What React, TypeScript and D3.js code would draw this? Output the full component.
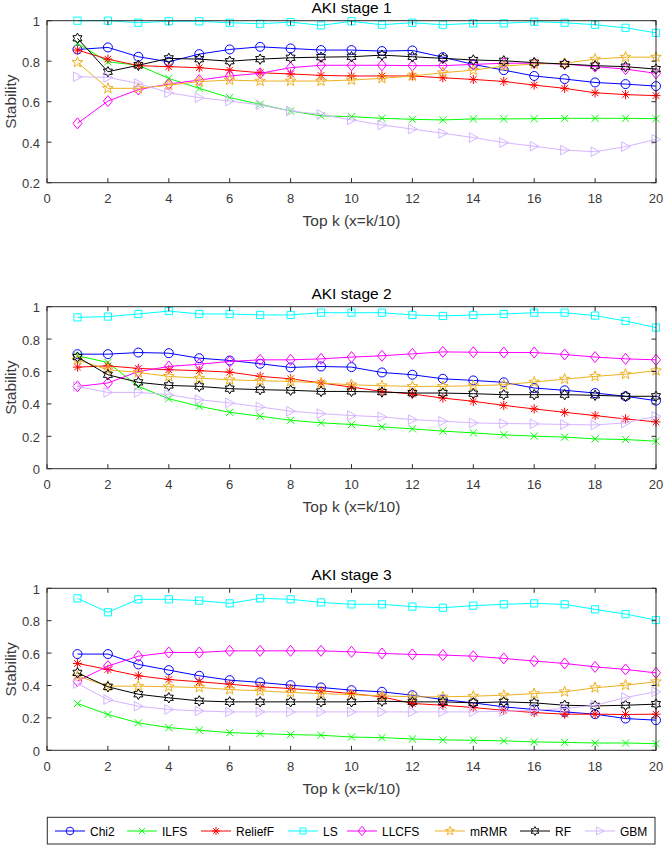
import React from 'react';
import * as d3 from 'd3';

const topK = [1, 2, 3, 4, 5, 6, 7, 8, 9, 10, 11, 12, 13, 14, 15, 16, 17, 18, 19, 20];
const xTicks = [0, 2, 4, 6, 8, 10, 12, 14, 16, 18, 20];
const yTicksStage1 = [0.2, 0.4, 0.6, 0.8, 1];
const yTicksStage23 = [0, 0.2, 0.4, 0.6, 0.8, 1];

const methods = ['Chi2', 'ILFS', 'ReliefF', 'LS', 'LLCFS', 'mRMR', 'RF', 'GBM'];
const methodColors = ['#0000ff', '#00ff00', '#ff0000', '#00ffff', '#ff00ff', '#edb120', '#000000', '#d6b4ff'];
const methodMarkers = ['circle', 'x', 'asterisk', 'square', 'diamond', 'pentagram', 'hexagram', 'triangle'];

const stageTitles = ['AKI stage 1', 'AKI stage 2', 'AKI stage 3'];

// Stage 1
const s1Chi2 = [0.858, 0.868, 0.822, 0.797, 0.835, 0.858, 0.871, 0.863, 0.855, 0.855, 0.85, 0.853, 0.82, 0.784, 0.756, 0.727, 0.712, 0.695, 0.687, 0.677];
const s1ILFS = [0.888, 0.797, 0.78, 0.715, 0.666, 0.62, 0.587, 0.554, 0.53, 0.526, 0.518, 0.513, 0.51, 0.515, 0.515, 0.516, 0.518, 0.518, 0.518, 0.516];
const s1ReliefF = [0.855, 0.81, 0.778, 0.773, 0.768, 0.756, 0.743, 0.737, 0.73, 0.727, 0.727, 0.727, 0.718, 0.71, 0.7, 0.682, 0.666, 0.644, 0.635, 0.63];
const s1LS = [1.0, 1.0, 0.99, 0.997, 0.997, 0.99, 0.985, 0.993, 0.977, 0.997, 0.98, 0.99, 0.98, 0.987, 0.987, 0.995, 0.99, 0.98, 0.965, 0.94];
const s1LLCFS = [0.493, 0.603, 0.66, 0.687, 0.707, 0.727, 0.74, 0.768, 0.78, 0.78, 0.78, 0.778, 0.778, 0.784, 0.79, 0.79, 0.786, 0.773, 0.761, 0.74];
const s1mRMR = [0.794, 0.666, 0.666, 0.682, 0.699, 0.707, 0.702, 0.702, 0.702, 0.707, 0.715, 0.727, 0.743, 0.756, 0.776, 0.786, 0.79, 0.81, 0.82, 0.82];
const s1RF = [0.913, 0.748, 0.78, 0.814, 0.81, 0.8, 0.81, 0.817, 0.82, 0.822, 0.83, 0.822, 0.814, 0.806, 0.802, 0.793, 0.786, 0.778, 0.773, 0.761];
const s1GBM = [0.723, 0.72, 0.69, 0.644, 0.62, 0.603, 0.584, 0.554, 0.537, 0.51, 0.485, 0.465, 0.444, 0.423, 0.398, 0.38, 0.361, 0.353, 0.378, 0.414];

// Stage 2
const s2Chi2 = [0.707, 0.707, 0.717, 0.713, 0.682, 0.668, 0.648, 0.625, 0.631, 0.627, 0.594, 0.58, 0.555, 0.545, 0.533, 0.498, 0.484, 0.467, 0.447, 0.42];
const s2ILFS = [0.697, 0.656, 0.508, 0.432, 0.385, 0.348, 0.324, 0.299, 0.283, 0.273, 0.258, 0.246, 0.232, 0.221, 0.209, 0.201, 0.195, 0.184, 0.18, 0.17];
const s2ReliefF = [0.627, 0.635, 0.619, 0.611, 0.605, 0.596, 0.57, 0.555, 0.529, 0.504, 0.477, 0.461, 0.436, 0.416, 0.391, 0.369, 0.348, 0.328, 0.307, 0.289];
const s2LS = [0.934, 0.939, 0.955, 0.973, 0.955, 0.955, 0.949, 0.949, 0.963, 0.963, 0.963, 0.949, 0.943, 0.949, 0.955, 0.963, 0.963, 0.945, 0.912, 0.871];
const s2LLCFS = [0.508, 0.529, 0.6, 0.631, 0.645, 0.662, 0.672, 0.672, 0.678, 0.689, 0.697, 0.709, 0.721, 0.719, 0.717, 0.717, 0.705, 0.689, 0.678, 0.672];
const s2mRMR = [0.672, 0.611, 0.594, 0.57, 0.559, 0.549, 0.543, 0.539, 0.529, 0.518, 0.512, 0.508, 0.508, 0.512, 0.518, 0.535, 0.553, 0.57, 0.584, 0.605];
const s2RF = [0.689, 0.58, 0.533, 0.514, 0.508, 0.494, 0.488, 0.484, 0.477, 0.477, 0.473, 0.467, 0.467, 0.463, 0.457, 0.457, 0.457, 0.453, 0.447, 0.447];
const s2GBM = [0.508, 0.471, 0.471, 0.457, 0.426, 0.406, 0.381, 0.355, 0.34, 0.328, 0.32, 0.303, 0.293, 0.283, 0.279, 0.277, 0.273, 0.27, 0.283, 0.324];

// Stage 3
const s3Chi2 = [0.594, 0.594, 0.53, 0.495, 0.46, 0.433, 0.419, 0.402, 0.388, 0.371, 0.361, 0.34, 0.313, 0.293, 0.268, 0.252, 0.237, 0.223, 0.196, 0.186];
const s3ILFS = [0.289, 0.221, 0.169, 0.14, 0.124, 0.109, 0.103, 0.097, 0.093, 0.082, 0.078, 0.07, 0.064, 0.062, 0.058, 0.052, 0.049, 0.045, 0.045, 0.041];
const s3ReliefF = [0.536, 0.499, 0.46, 0.437, 0.423, 0.408, 0.392, 0.381, 0.367, 0.35, 0.33, 0.289, 0.278, 0.264, 0.247, 0.233, 0.223, 0.223, 0.221, 0.223];
const s3LS = [0.938, 0.852, 0.932, 0.932, 0.924, 0.907, 0.938, 0.932, 0.913, 0.901, 0.901, 0.887, 0.88, 0.893, 0.901, 0.907, 0.901, 0.87, 0.841, 0.804];
const s3LLCFS = [0.427, 0.52, 0.581, 0.604, 0.604, 0.614, 0.614, 0.614, 0.614, 0.608, 0.598, 0.592, 0.588, 0.581, 0.567, 0.551, 0.536, 0.515, 0.499, 0.478];
const s3mRMR = [0.458, 0.396, 0.396, 0.392, 0.388, 0.375, 0.367, 0.357, 0.35, 0.344, 0.336, 0.33, 0.33, 0.334, 0.34, 0.35, 0.361, 0.386, 0.402, 0.423];
const s3RF = [0.478, 0.392, 0.346, 0.324, 0.305, 0.299, 0.299, 0.299, 0.299, 0.299, 0.303, 0.299, 0.299, 0.293, 0.299, 0.293, 0.278, 0.274, 0.278, 0.285];
const s3GBM = [0.412, 0.313, 0.272, 0.252, 0.243, 0.237, 0.237, 0.237, 0.237, 0.237, 0.237, 0.237, 0.237, 0.237, 0.241, 0.247, 0.258, 0.278, 0.326, 0.361];

const stageSeries = [
  [s1Chi2, s1ILFS, s1ReliefF, s1LS, s1LLCFS, s1mRMR, s1RF, s1GBM],
  [s2Chi2, s2ILFS, s2ReliefF, s2LS, s2LLCFS, s2mRMR, s2RF, s2GBM],
  [s3Chi2, s3ILFS, s3ReliefF, s3LS, s3LLCFS, s3mRMR, s3RF, s3GBM],
];
const stageYDomains = [[0.2, 1], [0, 1], [0, 1]];
const stageYTicks = [yTicksStage1, yTicksStage23, yTicksStage23];

const FONT = '"Liberation Sans", Arial, Helvetica, sans-serif';
const AXIS = '#2b2b2b';
const LABEL = '#3a3a3a';

function starPath(n: number, ro: number, ri: number): string {
  const pts: string[] = [];
  for (let i = 0; i < 2 * n; i++) {
    const r = i % 2 === 0 ? ro : ri;
    const a = -Math.PI / 2 + (i * Math.PI) / n;
    pts.push(`${(r * Math.cos(a)).toFixed(2)},${(r * Math.sin(a)).toFixed(2)}`);
  }
  return 'M' + pts.join('L') + 'Z';
}

function markerPath(type: string): string {
  switch (type) {
    case 'circle': {
      const r = 4.5;
      return `M${r},0A${r},${r} 0 1,1 ${-r},0A${r},${r} 0 1,1 ${r},0Z`;
    }
    case 'x':
      return 'M-3.6,-3.6L3.6,3.6M-3.6,3.6L3.6,-3.6';
    case 'asterisk':
      return 'M-4.6,0L4.6,0M0,-4.6L0,4.6M-3.3,-3.3L3.3,3.3M-3.3,3.3L3.3,-3.3';
    case 'square':
      return 'M-3.6,-3.6H3.6V3.6H-3.6Z';
    case 'diamond':
      return 'M0,-5.5L4.5,0L0,5.5L-4.5,0Z';
    case 'pentagram':
      return starPath(5, 5.6, 2.3);
    case 'hexagram':
      return starPath(6, 5.2, 3.0);
    case 'triangle':
      return 'M4.8,0L-4,-4.8L-4,4.8Z';
    default:
      return '';
  }
}

const LEFT = 47;
const RIGHT = 656;
const panelTops = [20.7, 306.7, 588.3];
const PANEL_H = 162;

function Panel({ idx }: { idx: number }) {
  const top = panelTops[idx];
  const bottom = top + PANEL_H;
  const x = d3.scaleLinear().domain([0, 20]).range([LEFT, RIGHT]);
  const y = d3.scaleLinear().domain(stageYDomains[idx]).range([bottom, top]);
  const line = d3
    .line<number>()
    .x((_, i) => x(topK[i]))
    .y((d) => y(d));
  const series = stageSeries[idx];
  const tl = 4.5;
  const midX = (LEFT + RIGHT) / 2;
  return (
    <g>
      {series.map((vals, si) => (
        <g key={si}>
          <path d={line(vals) || ''} fill="none" stroke={methodColors[si]} strokeWidth={1} />
          {vals.map((v, i) => (
            <path
              key={i}
              d={markerPath(methodMarkers[si])}
              transform={`translate(${x(topK[i])},${y(v)})`}
              fill="none"
              stroke={methodColors[si]}
              strokeWidth={1}
            />
          ))}
        </g>
      ))}
      {/* box */}
      <rect x={LEFT} y={top} width={RIGHT - LEFT} height={PANEL_H} fill="none" stroke={AXIS} strokeWidth={1} />
      {xTicks.map((t) => (
        <g key={'xt' + t}>
          <line x1={x(t)} x2={x(t)} y1={bottom} y2={bottom - tl} stroke={AXIS} />
          <line x1={x(t)} x2={x(t)} y1={top} y2={top + tl} stroke={AXIS} />
          <text x={x(t)} y={bottom + 16} textAnchor="middle" dominantBaseline="central" fontSize={13} fill={LABEL} fontFamily={FONT}>
            {String(t)}
          </text>
        </g>
      ))}
      {stageYTicks[idx].map((t) => (
        <g key={'yt' + t}>
          <line x1={LEFT} x2={LEFT + tl} y1={y(t)} y2={y(t)} stroke={AXIS} />
          <line x1={RIGHT} x2={RIGHT - tl} y1={y(t)} y2={y(t)} stroke={AXIS} />
          <text x={40} y={y(t) + 1} textAnchor="end" dominantBaseline="central" fontSize={13} fill={LABEL} fontFamily={FONT}>
            {String(t)}
          </text>
        </g>
      ))}
      <text x={midX} y={top - 13.5} textAnchor="middle" dominantBaseline="central" fontSize={15.5} fill="#000" fontFamily={FONT}>
        {stageTitles[idx]}
      </text>
      <text x={midX} y={bottom + 38} textAnchor="middle" dominantBaseline="central" fontSize={15.5} fill={LABEL} fontFamily={FONT}>
        Top k (x=k/10)
      </text>
      <text
        transform={`translate(10,${(top + bottom) / 2}) rotate(-90)`}
        textAnchor="middle"
        dominantBaseline="central"
        fontSize={15.5}
        fill={LABEL}
        fontFamily={FONT}
      >
        Stability
      </text>
    </g>
  );
}

const legendLineX = [55, 127, 201, 288, 347, 435, 520, 585];

function Legend() {
  const yc = 831;
  return (
    <g>
      <rect x={47.3} y={817.3} width={607.7} height={26.7} fill="#fff" stroke={AXIS} strokeWidth={1} />
      {methods.map((m, i) => {
        const x0 = legendLineX[i];
        return (
          <g key={m}>
            <line x1={x0} x2={x0 + 30} y1={yc} y2={yc} stroke={methodColors[i]} strokeWidth={1} />
            <path
              d={markerPath(methodMarkers[i])}
              transform={`translate(${x0 + 15},${yc}) scale(0.85)`}
              fill="none"
              stroke={methodColors[i]}
              strokeWidth={1.1}
            />
            <text x={x0 + 35} y={yc + 0.5} dominantBaseline="central" fontSize={12} fill="#000" fontFamily={FONT}>
              {m}
            </text>
          </g>
        );
      })}
    </g>
  );
}

export default function App() {
  return (
    <svg
      width={666}
      height={847}
      viewBox="0 0 666 847"
      style={{ position: 'absolute', left: 0, top: 0, background: '#fff' }}
    >
      <rect x={0} y={0} width={666} height={847} fill="#fff" />
      {[0, 1, 2].map((i) => (
        <Panel key={i} idx={i} />
      ))}
      <Legend />
    </svg>
  );
}
